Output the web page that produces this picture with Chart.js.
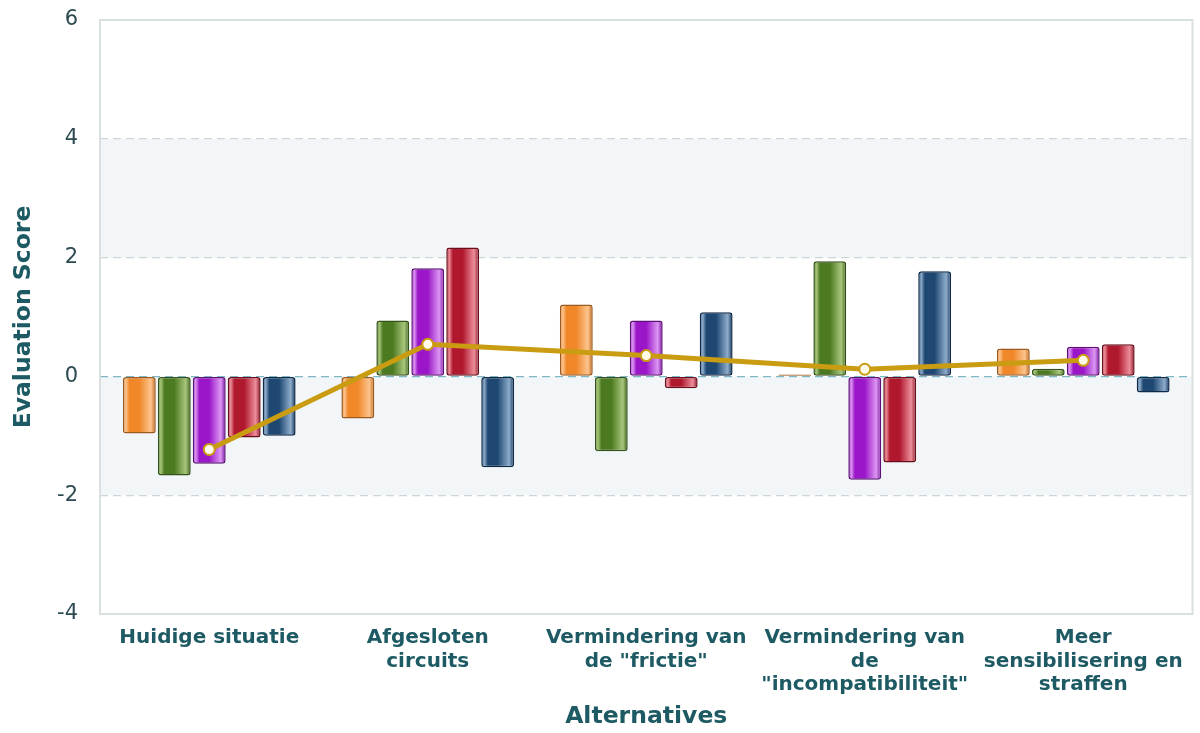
<!DOCTYPE html>
<html>
<head>
<meta charset="utf-8">
<script src="https://cdn.jsdelivr.net/npm/chart.js@4"></script>
<style>
  html, body { margin: 0; padding: 0; background: #fff; }
  #wrap { width: 1200px; height: 733px; }
</style>
</head>
<body>
<div id="wrap"><canvas id="evalChart" width="1200" height="733"></canvas></div>
<script>
const categories = [
  ['Huidige situatie'],
  ['Afgesloten', 'circuits'],
  ['Vermindering van', 'de "frictie"'],
  ['Vermindering van', 'de', '"incompatibiliteit"'],
  ['Meer', 'sensibilisering en', 'straffen']
];
const orangeValues = [-0.96, -0.71, 1.21, 0.03, 0.47];
const greenValues = [-1.67, 0.94, -1.26, 1.94, 0.13];
const purpleValues = [-1.47, 1.82, 0.94, -1.74, 0.50];
const redValues = [-1.03, 2.17, -0.20, -1.45, 0.54];
const navyValues = [-1.00, -1.53, 1.08, 1.77, -0.27];
const overallValues = [-1.23, 0.54, 0.35, 0.12, 0.27];
const yTicks = [-4, -2, 0, 2, 4, 6];

const teal = '#1d5a63';
const CAT_PCT = 0.8, BAR_PCT = 0.94;

// glossy horizontal gradient per bar, positioned from the x scale
function glossy(base, light, dark) {
  return function(ctx) {
    const chart = ctx.chart;
    const xs = chart.scales.x;
    if (!xs || ctx.dataIndex === undefined || !isFinite(xs.width) || xs.width <= 0) return base;
    const catW = xs.width / categories.length;
    const slot = catW * CAT_PCT / 5;
    const cx = xs.getPixelForValue(ctx.dataIndex) + (ctx.datasetIndex - 2) * slot;
    const w = slot * BAR_PCT;
    if (!isFinite(cx) || !isFinite(w)) return base;
    const g = chart.ctx.createLinearGradient(cx - w / 2, 0, cx + w / 2, 0);
    g.addColorStop(0, base);
    g.addColorStop(0.09, light);
    g.addColorStop(0.2, base);
    g.addColorStop(0.5, base);
    g.addColorStop(0.85, light);
    g.addColorStop(1, dark);
    return g;
  };
}

const bandsPlugin = {
  id: 'bands',
  beforeDraw(chart) {
    const { ctx, chartArea: a, scales: { y } } = chart;
    ctx.save();
    ctx.fillStyle = '#ffffff';
    ctx.fillRect(a.left, a.top, a.right - a.left, a.bottom - a.top);
    ctx.fillStyle = '#f2f6f8';
    [[4, 2], [0, -2]].forEach(([hi, lo]) => {
      const t = y.getPixelForValue(hi), b = y.getPixelForValue(lo);
      ctx.fillRect(a.left, t, a.right - a.left, b - t);
    });
    ctx.restore();
  },
  afterDatasetsDraw(chart) {
    const { ctx, chartArea: a } = chart;
    ctx.save();
    ctx.strokeStyle = '#dadfe0';
    ctx.lineWidth = 2;
    ctx.strokeRect(a.left, a.top, a.right - a.left, a.bottom - a.top);
    ctx.restore();
  }
};

const barDs = (label, data, base, light, dark, border) => ({
  type: 'bar',
  label: label,
  data: data,
  backgroundColor: glossy(base, light, dark),
  borderColor: border,
  borderWidth: 1.5,
  borderRadius: 3,
  borderSkipped: false,
  inflateAmount: 0,
  categoryPercentage: CAT_PCT,
  barPercentage: BAR_PCT,
  order: 2
});

new Chart(document.getElementById('evalChart'), {
  data: {
    labels: categories,
    datasets: [
      barDs('Criterium 1', orangeValues, '#f0882a', '#fcc48e', '#c56a1a', '#9a5a20'),
      barDs('Criterium 2', greenValues, '#4c7a20', '#a8c67c', '#3a6018', '#34521a'),
      barDs('Criterium 3', purpleValues, '#9a16c8', '#dc96f2', '#7a10a0', '#5c1078'),
      barDs('Criterium 4', redValues, '#b0182e', '#ec8e9a', '#8a1224', '#6a0f1c'),
      barDs('Criterium 5', navyValues, '#1e4872', '#8eaccb', '#15365a', '#0f2a48'),
      {
        type: 'line',
        label: 'Totaal',
        data: overallValues,
        borderColor: '#c99c12',
        borderWidth: 5,
        pointRadius: 5.5,
        pointBorderWidth: 2,
        pointBackgroundColor: '#fffbe8',
        pointBorderColor: '#c99c12',
        tension: 0,
        order: 1
      }
    ]
  },
  options: {
    responsive: false,
    animation: false,
    layout: { padding: { top: 20, right: 0, left: 0, bottom: 0 } },
    plugins: {
      legend: { display: false },
      tooltip: { enabled: false }
    },
    scales: {
      x: {
        grid: { display: false },
        border: { display: false },
        ticks: {
          color: teal,
          font: { family: 'DejaVu Sans', size: 20, weight: 'bold', lineHeight: 1.18 },
          maxRotation: 0,
          padding: 4
        },
        title: {
          display: true,
          text: 'Alternatives',
          color: teal,
          font: { family: 'DejaVu Sans', size: 23.5, weight: 'bold' },
          padding: { top: 0, bottom: 2 }
        },
        afterFit(scale) {
          scale.height = 119;
          scale.paddingLeft = 0;
          scale.paddingRight = 0;
        }
      },
      y: {
        min: -4,
        max: 6,
        afterBuildTicks(scale) { scale.ticks = yTicks.map(v => ({ value: v })); },
        border: { display: false, dash: [8, 5] },
        grid: {
          color: ctx => ctx.tick && ctx.tick.value === 0 ? '#7fb8c2' : '#cdd6d8',
          lineWidth: 1.3,
          tickLength: 0,
          drawTicks: false
        },
        ticks: {
          color: '#2c4a50',
          font: { family: 'DejaVu Sans', size: 21 },
          padding: 22
        },
        title: {
          display: true,
          text: 'Evaluation Score',
          color: teal,
          font: { family: 'DejaVu Sans', size: 23.5, weight: 'bold' },
          padding: { top: 10, bottom: 0 }
        },
        afterFit(scale) {
          scale.width = 100;
          scale.paddingTop = 0;
          scale.paddingBottom = 0;
        }
      }
    }
  },
  plugins: [bandsPlugin]
});
</script>
</body>
</html>
